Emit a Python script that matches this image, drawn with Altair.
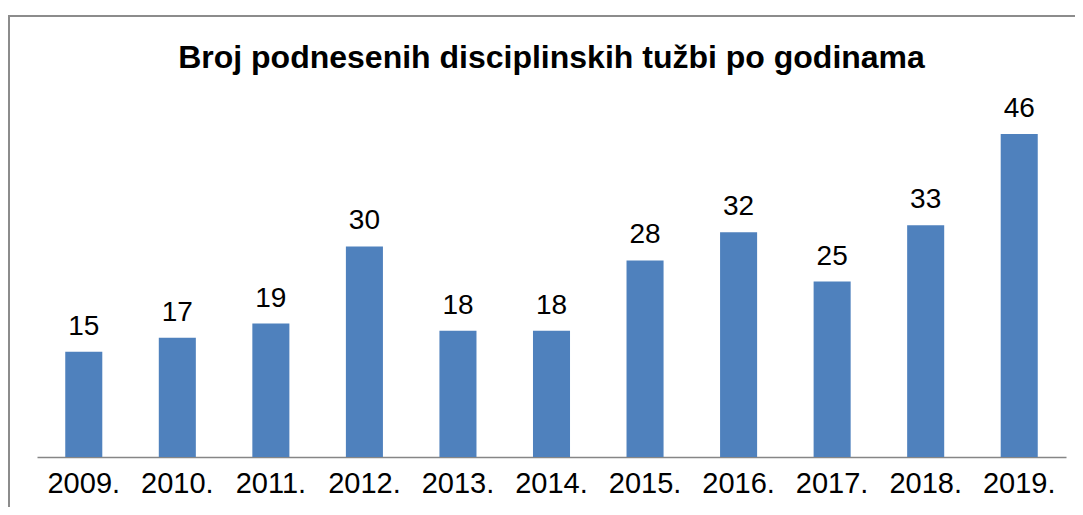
import altair as alt
import pandas as pd

years = ["2009.", "2010.", "2011.", "2012.", "2013.", "2014.", "2015.", "2016.", "2017.", "2018.", "2019."]
values = [15, 17, 19, 30, 18, 18, 28, 32, 25, 33, 46]
title_text = "Broj podnesenih disciplinskih tužbi po godinama"

df = pd.DataFrame({"year": years, "value": values})
FONT = "Liberation Sans"

base = alt.Chart(df)

bars = base.mark_bar(color="#4F81BD").encode(
    x=alt.X("year:N", sort=years,
            scale=alt.Scale(paddingInner=0.604, paddingOuter=0.302),
            axis=alt.Axis(title=None, labelAngle=0, ticks=False, domainColor="#868686",
                          domainWidth=1.5, labelFont=FONT, labelFontSize=29,
                          labelColor="#000000", labelPadding=12, grid=False)),
    y=alt.Y("value:Q", scale=alt.Scale(domain=[0, 50], nice=False),
            axis=None),
)

text = base.mark_text(baseline="alphabetic", dy=-17, font=FONT, fontSize=28, color="#000000").encode(
    x=alt.X("year:N", sort=years),
    y=alt.Y("value:Q"),
    text=alt.Text("value:Q"),
)

one = alt.Chart(pd.DataFrame({"t": [title_text]}))

frame = one.mark_rect(fill=None, stroke="#8c8c8c", strokeWidth=2).encode(
    x=alt.value(-28), x2=alt.value(1500), y=alt.value(-90), y2=alt.value(800)
)

title = one.mark_text(font=FONT, fontSize=32, fontWeight="bold", color="#000000",
                      baseline="alphabetic", align="center").encode(
    x=alt.value(514.5), y=alt.value(-38), text="t:N"
)

chart = alt.layer(frame, bars, text, title).properties(
    width=1029, height=351,
    padding={"left": 29, "top": 98, "right": 9, "bottom": 50},
    autosize=alt.AutoSizeParams(type="none"),
).configure_view(stroke=None)

chart.save("out.html", embed_options={"renderer": "svg", "actions": False})
